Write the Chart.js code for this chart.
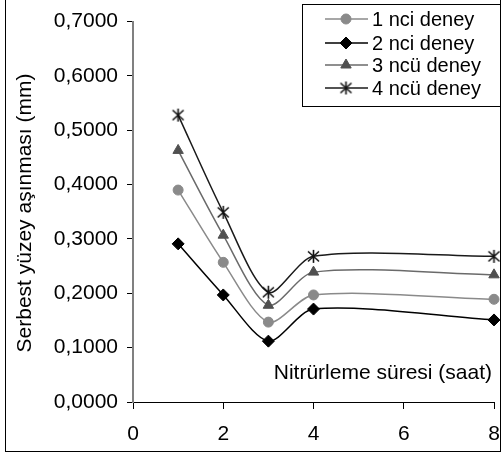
<!DOCTYPE html>
<html><head><meta charset="utf-8">
<script src="https://cdn.jsdelivr.net/npm/chart.js@4.4.0/dist/chart.umd.min.js"></script>
<style>html,body{margin:0;padding:0;background:#fff}#wrap{width:502px;height:456px;position:relative}</style>
</head><body><div id="wrap"><canvas id="c" width="502" height="456"></canvas></div>
<script>
const hours = [1, 2, 3, 4, 8];
const deney1 = [0.390, 0.257, 0.147, 0.197, 0.189];
const deney2 = [0.291, 0.197, 0.112, 0.171, 0.151];
const deney3 = [0.463, 0.307, 0.178, 0.239, 0.234];
const deney4 = [0.528, 0.349, 0.202, 0.268, 0.268];
const seriesNames = ['1 nci deney', '2 nci deney', '3 ncü deney', '4 ncü deney'];
const xTitle = 'Nitrürleme süresi (saat)';
const yTitle = 'Serbest yüzey aşınması (mm)';

function asterisk(color){
  const cv = document.createElement('canvas'); cv.width = 15; cv.height = 15;
  const g = cv.getContext('2d'); g.strokeStyle = color; g.lineWidth = 1.6;
  g.beginPath(); g.moveTo(7.5,1); g.lineTo(7.5,14);
  g.moveTo(2,2.5); g.lineTo(13,12.5); g.moveTo(13,2.5); g.lineTo(2,12.5); g.stroke();
  return cv;
}
const star = asterisk('#111');
const pts = d => hours.map((x,i)=>({x:x,y:d[i]}));
const styles = [
  {line:'#8a8a8a', fill:'#8a8a8a', ps:'circle', r:5},
  {line:'#000000', fill:'#000000', ps:'rectRot', r:6},
  {line:'#6a6a6a', fill:'#505050', ps:'triangle', r:6},
  {line:'#1a1a1a', fill:'#1a1a1a', ps:star, r:7}
];
const data = [deney1, deney2, deney3, deney4];
const datasets = data.map((d,i)=>({
  label: seriesNames[i], data: pts(d), borderColor: styles[i].line, backgroundColor: styles[i].fill,
  pointStyle: styles[i].ps, pointRadius: styles[i].r, pointBorderColor: styles[i].fill, pointBorderWidth: 1,
  borderWidth: 1.5, tension: 0.28, clip: false
}));
const FONT = 'Arial, "Liberation Sans", sans-serif';
const FS = 21;
const deco = {
  id:'deco',
  afterDraw(chart){
    const ctx = chart.ctx; ctx.save();
    ctx.strokeStyle='#000'; ctx.lineWidth=1;
    ctx.strokeRect(5.5, -0.5, 495, 452);
    // legend box
    ctx.fillStyle='#fff'; ctx.fillRect(302,4,198,102);
    ctx.strokeRect(302.5,4.5,198,102);
    const rows=[19,43,65,88];
    for(let i=0;i<4;i++){
      const y=rows[i];
      ctx.strokeStyle=styles[i].line; ctx.lineWidth=1.5;
      ctx.beginPath(); ctx.moveTo(325,y); ctx.lineTo(368,y); ctx.stroke();
      ctx.fillStyle=styles[i].fill; ctx.strokeStyle=styles[i].fill; ctx.lineWidth=1;
      Chart.helpers.drawPoint(ctx,{pointStyle:styles[i].ps, radius:styles[i].r, borderWidth:1, rotation:0}, 346, y);
      ctx.fillStyle='#000'; ctx.font='20px '+FONT; ctx.textBaseline='middle'; ctx.textAlign='left';
      ctx.fillText(seriesNames[i], 372, y+1);
    }
    // x title inside plot
    ctx.fillStyle='#000'; ctx.font=FS+'px '+FONT; ctx.textAlign='right'; ctx.textBaseline='middle';
    ctx.fillText(xTitle, 492, 373);
    // y title
    ctx.translate(25,213); ctx.rotate(-Math.PI/2);
    ctx.textAlign='center'; ctx.font=FS+'px '+FONT;
    ctx.fillText(yTitle,0,0);
    ctx.restore();
  }
};
new Chart(document.getElementById('c'), {
  type:'line',
  data:{datasets},
  options:{
    responsive:false, animation:false,
    layout:{padding:{top:21,right:8,bottom:0,left:0}},
    plugins:{legend:{display:false}, tooltip:{enabled:false}},
    scales:{
      x:{type:'linear', min:0, max:8,
        ticks:{stepSize:2, color:'#000', font:{size:FS, family:FONT}, padding:13, maxRotation:0},
        grid:{drawOnChartArea:false, tickLength:7, color:'#000'},
        border:{color:'#000', width:1},
        afterFit(s){ s.height = 54; s.paddingRight = 0; s.paddingLeft = 0; }
      },
      y:{min:0, max:0.7,
        ticks:{stepSize:0.1, color:'#000', font:{size:FS, family:FONT}, padding:9,
          callback:v=>v.toFixed(4).replace('.',',')},
        grid:{drawOnChartArea:false, tickLength:6, color:'#000'},
        border:{color:'#808080', width:2},
        afterFit(s){ s.width = 133; }
      }
    }
  },
  plugins:[deco]
});
</script></body></html>
